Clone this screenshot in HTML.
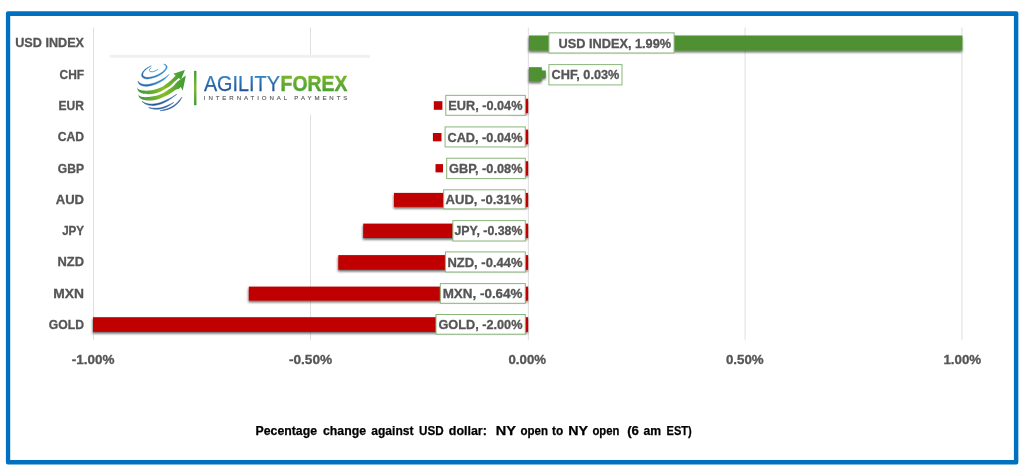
<!DOCTYPE html>
<html lang="en"><head><meta charset="utf-8"><title>Agility Forex - Percentage change against USD</title>
<style>
html,body{margin:0;padding:0;background:#fff;}
body{width:1024px;height:470px;overflow:hidden;position:relative;font-family:"Liberation Sans",sans-serif;}
svg{position:absolute;left:0;top:0;display:block;}
text{font-family:"Liberation Sans",sans-serif;font-weight:bold;}
.g text{fill:#555555;font-size:12.7px;stroke:#555555;stroke-width:0.3px;}
.cap text{fill:#000;font-size:12.6px;stroke:#000;stroke-width:0.25px;}
</style></head><body>
<svg width="1024" height="470" viewBox="0 0 1024 470">
<defs>
<filter id="sh" x="-5%" y="-40%" width="110%" height="200%"><feDropShadow dx="-0.4" dy="1.7" stdDeviation="1.0" flood-color="#000" flood-opacity="0.6"/></filter>
</defs>
<rect x="0" y="0" width="1024" height="470" fill="#fff"/>
<path fill="#0070c0" fill-rule="evenodd" d="M7.9,11.3H1016.35a2,2 0 0 1 2,2V462.4a2,2 0 0 1 -2,2H7.9a2,2 0 0 1 -2,-2V13.3a2,2 0 0 1 2,-2Z M10.2,16H1013.9V459.9H10.2Z"/>

<g fill="#dfdfdf">
<rect x="93.00" y="27.5" width="1" height="312.8"/>
<rect x="310.00" y="27.5" width="1" height="312.8"/>
<rect x="527.85" y="27.5" width="1" height="312.8"/>
<rect x="744.60" y="27.5" width="1" height="312.8"/>
<rect x="961.45" y="27.5" width="1" height="312.8"/>
</g>
<g filter="url(#sh)">
<rect x="529.00" y="35.50" width="433.40" height="15.10" fill="#4f9132"/>
<rect x="529.00" y="67.20" width="12.80" height="14.30" fill="#4f9132"/>
<rect x="511.00" y="98.70" width="17.10" height="14.30" fill="#c00000"/>
<rect x="511.00" y="129.60" width="17.10" height="14.65" fill="#c00000"/>
<rect x="493.60" y="161.20" width="34.50" height="14.40" fill="#c00000"/>
<rect x="394.00" y="192.90" width="134.10" height="14.00" fill="#c00000"/>
<rect x="363.20" y="223.60" width="164.90" height="14.40" fill="#c00000"/>
<rect x="338.30" y="255.10" width="189.80" height="14.70" fill="#c00000"/>
<rect x="248.80" y="286.60" width="279.30" height="14.00" fill="#c00000"/>
<rect x="93.00" y="317.20" width="435.10" height="14.70" fill="#c00000"/>
<rect x="541" y="70.5" width="4.8" height="7.5" fill="#4f9132"/>
</g>
<rect x="433.80" y="101.20" width="8.60" height="8.60" fill="#c00000"/>
<rect x="432.90" y="133.00" width="8.60" height="8.30" fill="#c00000"/>
<rect x="435.50" y="164.10" width="7.50" height="8.30" fill="#c00000"/>
<rect x="109.7" y="55" width="260.2" height="59.5" fill="#fff"/>
<rect x="109.7" y="54.8" width="260.2" height="3.0" fill="#eff0f3"/>
<defs>
<linearGradient id="lgB1" x1="0" y1="0" x2="1" y2="0"><stop offset="0" stop-color="#1f5ea6"/><stop offset="1" stop-color="#2f8fce"/></linearGradient>
<linearGradient id="lgB2" x1="0" y1="0" x2="1" y2="0"><stop offset="0" stop-color="#2a63a8"/><stop offset="0.5" stop-color="#1f4f94"/><stop offset="1" stop-color="#3a6cab"/></linearGradient>
<linearGradient id="lgG" x1="0" y1="0" x2="1" y2="0"><stop offset="0" stop-color="#3a9640"/><stop offset="0.55" stop-color="#86bd26"/><stop offset="0.85" stop-color="#4ea332"/><stop offset="1" stop-color="#3f9a36"/></linearGradient>
<linearGradient id="lgBar" x1="0" y1="0" x2="0" y2="1"><stop offset="0" stop-color="#3f9a36"/><stop offset="0.5" stop-color="#7cb82b"/><stop offset="1" stop-color="#3f9a36"/></linearGradient>
<linearGradient id="lgT" x1="0" y1="0" x2="0" y2="1"><stop offset="0" stop-color="#3a96d6"/><stop offset="1" stop-color="#1d4289"/></linearGradient>
<linearGradient id="lgF" x1="0" y1="0" x2="0" y2="1"><stop offset="0" stop-color="#86bd26"/><stop offset="1" stop-color="#3f9a36"/></linearGradient>
</defs>
<path d="M151.00,68.00C150.75,68.27 149.70,69.05 149.50,69.60C149.30,70.15 149.35,70.93 149.80,71.30C150.25,71.67 151.33,71.85 152.20,71.80C153.07,71.75 154.10,71.37 155.00,71.00C155.90,70.63 157.17,69.83 157.60,69.60" fill="none" stroke="#3a8fca" stroke-width="0.9" stroke-linecap="round"/>
<path d="M151.30,65.80C150.42,66.27 147.48,67.48 146.00,68.60C144.52,69.72 143.12,71.30 142.40,72.50C141.68,73.70 141.52,74.88 141.70,75.80C141.88,76.72 142.53,77.48 143.50,78.00C144.47,78.52 145.58,79.02 147.50,78.90C149.42,78.78 152.75,78.07 155.00,77.30C157.25,76.53 159.25,75.43 161.00,74.30C162.75,73.17 164.47,71.67 165.50,70.50C166.53,69.33 167.12,68.25 167.20,67.30C167.28,66.35 166.60,65.32 166.00,64.80C165.40,64.28 164.00,64.30 163.60,64.20C163.93,64.43 165.20,65.07 165.60,65.60C166.00,66.13 166.17,66.67 166.00,67.40C165.83,68.13 165.52,69.02 164.60,70.00C163.68,70.98 162.13,72.30 160.50,73.30C158.87,74.30 156.88,75.32 154.80,76.00C152.72,76.68 149.72,77.27 148.00,77.40C146.28,77.53 145.35,77.17 144.50,76.80C143.65,76.43 143.10,75.90 142.90,75.20C142.70,74.50 142.72,73.63 143.30,72.60C143.88,71.57 145.07,70.13 146.40,69.00C147.73,67.87 150.48,66.33 151.30,65.80Z" fill="url(#lgB1)" stroke="url(#lgB1)" stroke-width="0.45" stroke-linejoin="round"/>
<path d="M138.00,81.20C138.20,81.67 138.45,83.23 139.20,84.00C139.95,84.77 141.12,85.43 142.50,85.80C143.88,86.17 145.25,86.50 147.50,86.20C149.75,85.90 153.25,85.10 156.00,84.00C158.75,82.90 161.80,81.22 164.00,79.60C166.20,77.98 168.33,75.18 169.20,74.30C168.33,74.97 166.20,76.95 164.00,78.30C161.80,79.65 158.75,81.37 156.00,82.40C153.25,83.43 149.70,84.18 147.50,84.50C145.30,84.82 144.08,84.55 142.80,84.30C141.52,84.05 140.60,83.52 139.80,83.00C139.00,82.48 138.30,81.50 138.00,81.20Z" fill="url(#lgB1)" stroke="url(#lgB1)" stroke-width="0.45" stroke-linejoin="round"/>
<path d="M136.70,85.60C136.85,86.07 136.80,87.63 137.60,88.40C138.40,89.17 139.64,89.83 141.50,90.20C143.36,90.57 146.50,90.72 148.75,90.60C151.00,90.48 152.92,90.05 155.00,89.50C157.08,88.95 159.14,88.40 161.25,87.30C163.36,86.20 165.87,84.23 167.66,82.90C169.45,81.57 170.68,80.52 172.00,79.30C173.32,78.08 175.00,76.22 175.60,75.60L173.40,73.70L184.90,69.90L180.90,79.80L178.90,77.90C178.30,78.42 176.68,79.72 175.30,81.00C173.92,82.28 171.87,84.50 170.60,85.60C169.33,86.70 169.22,86.67 167.66,87.60C166.10,88.53 163.36,90.23 161.25,91.20C159.14,92.17 157.08,92.90 155.00,93.40C152.92,93.90 150.92,94.22 148.75,94.20C146.58,94.18 143.79,93.90 142.00,93.30C140.21,92.70 138.88,91.88 138.00,90.60C137.12,89.32 136.92,86.43 136.70,85.60Z" fill="url(#lgG)"/>
<path d="M137.90,93.00C138.08,93.43 138.23,94.93 139.00,95.60C139.77,96.27 140.88,96.77 142.50,97.00C144.12,97.23 146.67,97.15 148.75,97.00C150.83,96.85 152.92,96.60 155.00,96.10C157.08,95.60 159.14,94.98 161.25,94.00C163.36,93.02 165.78,91.40 167.66,90.20C169.53,89.00 170.98,88.13 172.50,86.80C174.02,85.47 176.08,82.97 176.80,82.20L177.40,81.40L185.90,75.50L182.70,90.80L180.80,86.90C180.46,87.21 179.67,88.23 178.75,88.75C177.83,89.27 176.66,89.24 175.30,90.00C173.94,90.76 171.87,92.48 170.60,93.30C169.33,94.12 169.22,94.12 167.66,94.90C166.10,95.68 163.36,97.15 161.25,98.00C159.14,98.85 157.08,99.57 155.00,100.00C152.92,100.43 150.75,100.63 148.75,100.60C146.75,100.57 144.56,100.30 143.00,99.80C141.44,99.30 140.25,98.73 139.40,97.60C138.55,96.47 138.15,93.77 137.90,93.00Z" fill="url(#lgG)"/>
<path d="M142.00,101.40C142.58,101.83 144.17,103.35 145.50,104.00C146.83,104.65 148.33,105.10 150.00,105.30C151.67,105.50 153.50,105.48 155.50,105.20C157.50,104.92 159.92,104.37 162.00,103.60C164.08,102.83 166.25,101.60 168.00,100.60C169.75,99.60 171.03,98.67 172.50,97.60C173.97,96.53 176.08,94.77 176.80,94.20C175.92,94.73 173.13,96.47 171.50,97.40C169.87,98.33 168.67,98.98 167.00,99.80C165.33,100.62 163.42,101.63 161.50,102.30C159.58,102.97 157.42,103.50 155.50,103.80C153.58,104.10 151.58,104.18 150.00,104.10C148.42,104.02 147.33,103.75 146.00,103.30C144.67,102.85 142.67,101.72 142.00,101.40Z" fill="url(#lgB2)" stroke="url(#lgB2)" stroke-width="0.5" stroke-linejoin="round"/>
<path d="M148.60,107.60C149.33,107.82 151.42,108.63 153.00,108.90C154.58,109.17 156.43,109.30 158.10,109.20C159.77,109.10 161.35,108.80 163.00,108.30C164.65,107.80 166.18,107.18 168.00,106.20C169.82,105.22 172.92,103.03 173.90,102.40C172.92,102.87 169.82,104.40 168.00,105.20C166.18,106.00 164.65,106.70 163.00,107.20C161.35,107.70 159.77,108.03 158.10,108.20C156.43,108.37 154.58,108.30 153.00,108.20C151.42,108.10 149.33,107.70 148.60,107.60Z" fill="url(#lgB2)" stroke="url(#lgB2)" stroke-width="0.5" stroke-linejoin="round"/>
<path d="M160.00,110.70C160.75,110.63 163.00,110.58 164.50,110.30C166.00,110.02 167.50,109.58 169.00,109.00C170.50,108.42 172.08,107.70 173.50,106.80C174.92,105.90 176.38,104.67 177.50,103.60C178.62,102.53 179.45,101.50 180.20,100.40C180.95,99.30 181.70,97.57 182.00,97.00C181.50,97.60 179.92,99.55 179.00,100.60C178.08,101.65 177.50,102.40 176.50,103.30C175.50,104.20 174.28,105.18 173.00,106.00C171.72,106.82 170.22,107.60 168.80,108.20C167.38,108.80 165.97,109.18 164.50,109.60C163.03,110.02 160.75,110.52 160.00,110.70Z" fill="url(#lgB2)" stroke="url(#lgB2)" stroke-width="0.5" stroke-linejoin="round"/>
<rect x="194.05" y="70.9" width="2.4" height="34.3" fill="url(#lgBar)"/>
<text x="203.9" y="90.7" textLength="76.0" lengthAdjust="spacingAndGlyphs" style="font-weight:normal;font-size:22.5px" fill="url(#lgT)" stroke="url(#lgT)" stroke-width="0.25">AGILITY</text>
<text x="280.6" y="90.7" textLength="66.8" lengthAdjust="spacingAndGlyphs" style="font-weight:bold;font-size:22.5px" fill="url(#lgF)" stroke="url(#lgF)" stroke-width="0.45">FOREX</text>
<text x="203.8" y="100.2" textLength="143.6" lengthAdjust="spacing" style="font-weight:normal;font-size:6.1px" fill="#555" stroke="#555" stroke-width="0.12">INTERNATIONAL PAYMENTS</text>
<g class="g">
<rect x="548.90" y="32.85" width="125.20" height="20.15" fill="#fff" stroke="#8ab57b" stroke-width="1"/>
<text x="558.55" y="47.65" textLength="112.55" lengthAdjust="spacingAndGlyphs">USD INDEX, 1.99%</text>
<rect x="548.90" y="64.60" width="73.10" height="20.30" fill="#fff" stroke="#8ab57b" stroke-width="1"/>
<text x="551.55" y="79.35" textLength="67.85" lengthAdjust="spacingAndGlyphs">CHF, 0.03%</text>
<rect x="445.80" y="95.35" width="79.50" height="19.95" fill="#fff" stroke="#8ab57b" stroke-width="1"/>
<text x="448.35" y="110.05" textLength="74.15" lengthAdjust="spacingAndGlyphs">EUR, -0.04%</text>
<rect x="445.10" y="126.90" width="80.20" height="20.05" fill="#fff" stroke="#8ab57b" stroke-width="1"/>
<text x="447.45" y="141.55" textLength="75.05" lengthAdjust="spacingAndGlyphs">CAD, -0.04%</text>
<rect x="446.70" y="158.25" width="78.60" height="20.35" fill="#fff" stroke="#8ab57b" stroke-width="1"/>
<text x="449.05" y="172.95" textLength="73.45" lengthAdjust="spacingAndGlyphs">GBP, -0.08%</text>
<rect x="443.65" y="189.80" width="81.65" height="19.10" fill="#fff" stroke="#8ab57b" stroke-width="1"/>
<text x="445.55" y="204.25" textLength="76.95" lengthAdjust="spacingAndGlyphs">AUD, -0.31%</text>
<rect x="452.85" y="220.60" width="72.45" height="20.40" fill="#fff" stroke="#8ab57b" stroke-width="1"/>
<text x="454.45" y="235.35" textLength="68.05" lengthAdjust="spacingAndGlyphs">JPY, -0.38%</text>
<rect x="445.40" y="251.90" width="79.90" height="20.10" fill="#fff" stroke="#8ab57b" stroke-width="1"/>
<text x="447.45" y="266.60" textLength="75.05" lengthAdjust="spacingAndGlyphs">NZD, -0.44%</text>
<rect x="440.30" y="283.60" width="85.00" height="19.70" fill="#fff" stroke="#8ab57b" stroke-width="1"/>
<text x="442.70" y="298.15" textLength="79.80" lengthAdjust="spacingAndGlyphs">MXN, -0.64%</text>
<rect x="436.00" y="314.50" width="89.30" height="19.70" fill="#fff" stroke="#8ab57b" stroke-width="1"/>
<text x="438.45" y="329.25" textLength="84.05" lengthAdjust="spacingAndGlyphs">GOLD, -2.00%</text>
</g>
<g class="g" text-anchor="end">
<text x="84.05" y="47.40" textLength="68.80" lengthAdjust="spacingAndGlyphs">USD INDEX</text>
<text x="84.05" y="78.68" textLength="24.50" lengthAdjust="spacingAndGlyphs">CHF</text>
<text x="84.05" y="109.96" textLength="25.50" lengthAdjust="spacingAndGlyphs">EUR</text>
<text x="84.05" y="141.23" textLength="26.40" lengthAdjust="spacingAndGlyphs">CAD</text>
<text x="84.05" y="172.51" textLength="26.20" lengthAdjust="spacingAndGlyphs">GBP</text>
<text x="84.05" y="203.79" textLength="28.30" lengthAdjust="spacingAndGlyphs">AUD</text>
<text x="84.05" y="235.07" textLength="21.90" lengthAdjust="spacingAndGlyphs">JPY</text>
<text x="84.05" y="266.34" textLength="26.50" lengthAdjust="spacingAndGlyphs">NZD</text>
<text x="84.05" y="297.62" textLength="30.70" lengthAdjust="spacingAndGlyphs">MXN</text>
<text x="84.05" y="328.90" textLength="35.20" lengthAdjust="spacingAndGlyphs">GOLD</text>
</g>
<g class="g">
<text x="71.80" y="363.7" textLength="42.70" lengthAdjust="spacingAndGlyphs">-1.00%</text>
<text x="288.90" y="363.7" textLength="43.30" lengthAdjust="spacingAndGlyphs">-0.50%</text>
<text x="508.50" y="363.7" textLength="37.50" lengthAdjust="spacingAndGlyphs">0.00%</text>
<text x="725.90" y="363.7" textLength="37.80" lengthAdjust="spacingAndGlyphs">0.50%</text>
<text x="943.40" y="363.7" textLength="37.80" lengthAdjust="spacingAndGlyphs">1.00%</text>
</g>
<g class="cap">
<text x="255.60" y="434.9" textLength="61.40" lengthAdjust="spacingAndGlyphs">Pecentage</text>
<text x="323.00" y="434.9" textLength="43.00" lengthAdjust="spacingAndGlyphs">change</text>
<text x="371.30" y="434.9" textLength="42.20" lengthAdjust="spacingAndGlyphs">against</text>
<text x="419.00" y="434.9" textLength="24.60" lengthAdjust="spacingAndGlyphs">USD</text>
<text x="448.80" y="434.9" textLength="38.00" lengthAdjust="spacingAndGlyphs">dollar:</text>
<text x="495.80" y="434.9" textLength="20.20" lengthAdjust="spacingAndGlyphs">NY</text>
<text x="520.50" y="434.9" textLength="27.50" lengthAdjust="spacingAndGlyphs">open</text>
<text x="552.00" y="434.9" textLength="11.20" lengthAdjust="spacingAndGlyphs">to</text>
<text x="568.20" y="434.9" textLength="19.80" lengthAdjust="spacingAndGlyphs">NY</text>
<text x="592.40" y="434.9" textLength="27.00" lengthAdjust="spacingAndGlyphs">open</text>
<text x="627.20" y="434.9" textLength="11.80" lengthAdjust="spacingAndGlyphs">(6</text>
<text x="643.40" y="434.9" textLength="17.60" lengthAdjust="spacingAndGlyphs">am</text>
<text x="666.50" y="434.9" textLength="25.20" lengthAdjust="spacingAndGlyphs">EST)</text>
</g>
</svg></body></html>
